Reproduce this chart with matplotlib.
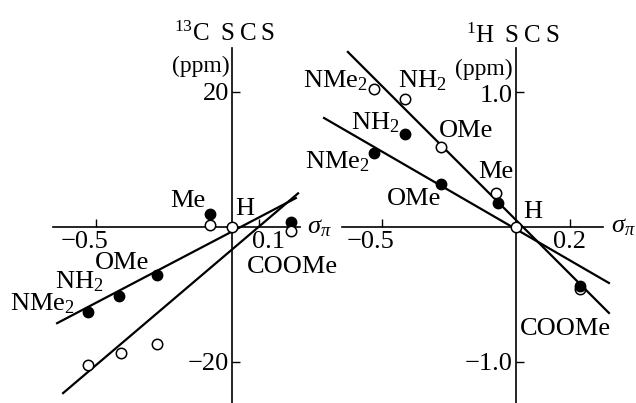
import numpy as np
import matplotlib
matplotlib.use("Agg")
import matplotlib.pyplot as plt

plt.rcParams["font.family"] = ["Liberation Serif", "DejaVu Serif"]
plt.rcParams["mathtext.fontset"] = "custom"
plt.rcParams["mathtext.rm"] = "Liberation Serif"
plt.rcParams["mathtext.it"] = "Liberation Serif:italic"

# 13C SCS vs sigma_pi (left panel)
c_sig_open = [-0.53, -0.409, -0.275, -0.081, 0.0, 0.217]
c_scs_open = [-20.5, -18.8, -17.4, 0.3, 0.0, -0.55]
c_sig_fill = [-0.53, -0.415, -0.277, -0.081, 0.217]
c_scs_fill = [-12.7, -10.2, -7.2, 1.93, 0.8]
c_line_open = ([-0.621, 0.243], [-24.7, 5.0])
c_line_fill = ([-0.643, 0.235], [-14.3, 4.3])

# 1H SCS vs sigma_pi (right panel)
h_sig_open = [-0.53, -0.414, -0.28, -0.075, 0.0, 0.239]
h_scs_open = [1.02, 0.95, 0.59, 0.25, 0.0, -0.46]
h_sig_fill = [-0.53, -0.414, -0.28, -0.067, 0.239]
h_scs_fill = [0.55, 0.69, 0.32, 0.18, -0.44]
h_line_open = ([-0.627, 0.347], [1.296, -0.637])
h_line_fill = ([-0.716, 0.347], [0.807, -0.415])

FS = 19
TH = "\u2009"  # thin space, the scan is letter-spaced
fig = plt.figure(figsize=(6.36, 4.03), dpi=100)
axl = fig.add_axes([0, 0, 316 / 636, 1])
axr = fig.add_axes([316 / 636, 0, 320 / 636, 1])

axl.set_xlim(-0.853, 0.309)
axl.set_ylim(-26.17, 33.75)
axr.set_xlim(-0.746, 0.448)
axr.set_ylim(-1.304, 1.681)


def setup(ax, xb, ytop, xt, yt):
    ax.patch.set_alpha(0)
    for s in ["top", "right"]:
        ax.spines[s].set_visible(False)
    ax.spines["left"].set_position(("data", 0))
    ax.spines["bottom"].set_position(("data", 0))
    ax.spines["left"].set_bounds(ax.get_ylim()[0], ytop)
    ax.spines["bottom"].set_bounds(*xb)
    for s in ["left", "bottom"]:
        ax.spines[s].set_linewidth(1.2)
    ax.set_xticks(xt)
    ax.set_yticks(yt)
    ax.set_xticklabels([])
    ax.set_yticklabels([])
    ax.tick_params(direction="in", length=6, width=1.0)


setup(axl, (-0.658, 0.25), 26.6, [-0.5, 0.1], [-20, 20])
setup(axr, (-0.649, 0.325), 1.326, [-0.5, 0.2], [-1.0, 1.0])

lw = 1.6
axl.plot(*c_line_fill, color="black", lw=lw, clip_on=False)
axl.plot(*c_line_open, color="black", lw=lw, clip_on=False)
axl.plot(c_sig_fill, c_scs_fill, "o", ms=7.5, color="black", clip_on=False, zorder=3)
axl.plot(c_sig_open, c_scs_open, "o", ms=7.5, mfc="white", mec="black", mew=1.1,
         clip_on=False, zorder=4)

axr.plot(*h_line_fill, color="black", lw=lw, clip_on=False)
axr.plot(*h_line_open, color="black", lw=lw, clip_on=False)
axr.plot(h_sig_open, h_scs_open, "o", ms=7.5, mfc="white", mec="black", mew=1.1,
         clip_on=False, zorder=3)
axr.plot(h_sig_fill, h_scs_fill, "o", ms=7.5, color="black", clip_on=False, zorder=4)


def lab(ax, x, y, s, ha="left", fs=FS):
    ax.text(x, y, s, ha=ha, va="baseline", fontsize=fs, clip_on=False)


scs = "S" + TH + "C" + TH + "S"

# left panel texts
lab(axl, -0.026, 27.66, r"$^{13}$C " + TH + scs, ha="center", fs=18)
lab(axl, -0.007, 23.05, "(ppm)", ha="right", fs=17)
lab(axl, -0.011, 18.9, "20", ha="right")
lab(axl, -0.011, -21.26, "\u221220", ha="right")
lab(axl, -0.544, -3.12, "\u22120.5", ha="center")
lab(axl, 0.136, -3.12, "0.1", ha="center")
lab(axl, 0.276, -0.89, r"$\sigma_\pi$")
lab(axl, -0.162, 2.97, "Me", ha="center")
lab(axl, 0.011, 1.78, "H")
lab(axl, 0.055, -6.84, "COOMe")
lab(axl, -0.505, -6.3, "OMe")
lab(axl, -0.651, -9.1, r"NH$_2$")
lab(axl, -0.816, -12.4, r"NMe$_2$")

# right panel texts
lab(axr, -0.011, 1.363, r"$^{1}$H " + TH + scs, ha="center", fs=18)
lab(axr, -0.011, 1.126, "(ppm)", ha="right", fs=17)
lab(axr, -0.011, 0.926, "1.0", ha="right")
lab(axr, -0.011, -1.059, "\u22121.0", ha="right")
lab(axr, -0.541, -0.156, "\u22120.5", ha="center")
lab(axr, 0.201, -0.156, "0.2", ha="center")
lab(axr, 0.354, -0.037, r"$\sigma_\pi$")
lab(axr, 0.026, 0.067, "H")
lab(axr, 0.015, -0.8, "COOMe")
lab(axr, -0.011, 0.363, "Me", ha="right")
lab(axr, -0.287, 0.667, "OMe")
lab(axr, -0.44, 1.037, r"NH$_2$")
lab(axr, -0.795, 1.037, r"NMe$_2$")
lab(axr, -0.616, 0.719, r"NH$_2$")
lab(axr, -0.787, 0.437, r"NMe$_2$")
lab(axr, -0.481, 0.163, "OMe")

fig.savefig("out.png", dpi=100)
